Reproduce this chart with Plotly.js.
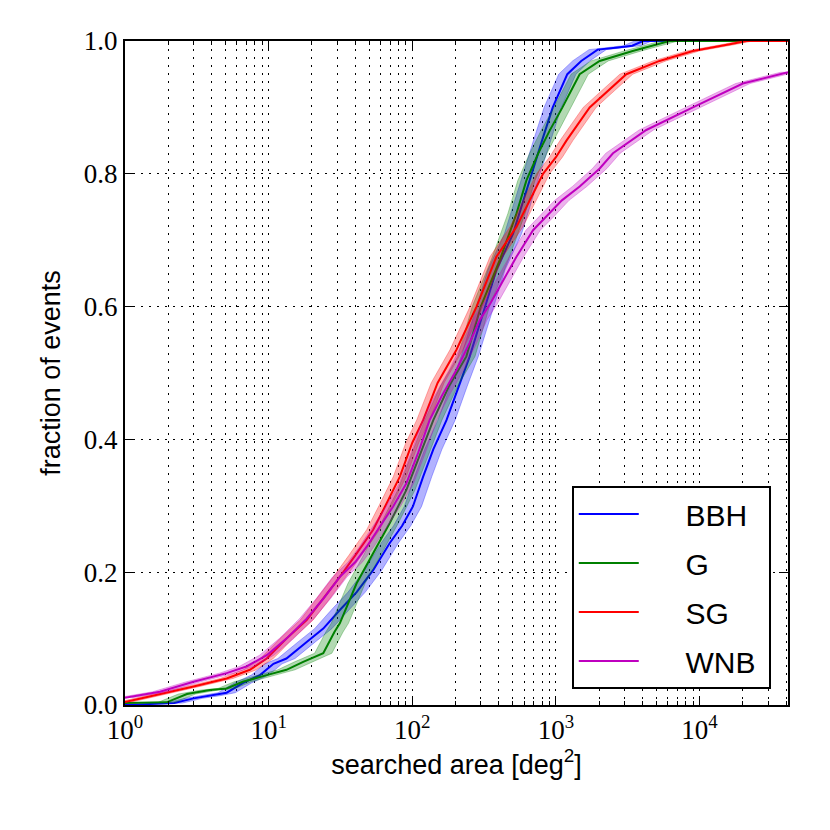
<!DOCTYPE html>
<html>
<head>
<meta charset="utf-8">
<script src="https://cdn.plot.ly/plotly-3.0.1.min.js"></script>
<style>html,body{margin:0;padding:0;background:#fff;}</style>
</head>
<body>
<div id="chart" style="width:830px;height:830px;"></div>
<script>
// ---- data ----
const seriesNames = ['BBH', 'G', 'SG', 'WNB'];

const bbhArea = [1, 2.2, 3, 4, 5.1, 6.6, 8.7, 10.8, 13.3, 18.4, 24, 31.3, 41, 53.4, 69.7, 85, 101, 119, 140, 173, 210, 251, 311, 385, 503, 675, 800, 950, 1200, 1500, 1950, 2600, 3400, 4040, 41253];
const bbhFrac = [0, 0.003, 0.01, 0.014, 0.0185, 0.033, 0.045, 0.062, 0.07, 0.095, 0.115, 0.143, 0.17, 0.203, 0.244, 0.27, 0.299, 0.344, 0.385, 0.429, 0.48, 0.525, 0.59, 0.655, 0.71, 0.8, 0.85, 0.9, 0.95, 0.97, 0.987, 0.99, 0.993, 1.0, 1.0];

const gArea = [1, 1.95, 2.7, 3.9, 5.1, 6.6, 9.7, 13.3, 17.4, 24, 28.7, 31.3, 40.9, 53.4, 69.7, 91, 110, 140, 180, 238, 300, 406, 531, 623, 750, 904, 1110, 1463, 2015, 3420, 6170, 41253];
const gFrac = [0.003, 0.004, 0.0165, 0.0226, 0.025, 0.035, 0.045, 0.053, 0.065, 0.078, 0.11, 0.123, 0.183, 0.228, 0.274, 0.324, 0.37, 0.429, 0.48, 0.525, 0.6, 0.67, 0.74, 0.79, 0.83, 0.865, 0.9, 0.95, 0.97, 0.985, 1.0, 1.0];

const sgArea = [1, 1.75, 3, 5.1, 7.4, 9.7, 10.8, 13.3, 18.4, 24, 31.3, 40, 53.4, 65, 81.9, 100, 119, 150, 203, 280, 385, 531, 731, 813, 1000, 1183, 1717, 2300, 3090, 5260, 8980, 16200, 21100, 41253];
const sgFrac = [0.0045, 0.016, 0.028, 0.04, 0.053, 0.07, 0.08, 0.1, 0.128, 0.16, 0.193, 0.225, 0.264, 0.3, 0.344, 0.395, 0.429, 0.485, 0.535, 0.6, 0.675, 0.72, 0.78, 0.8, 0.825, 0.85, 0.9, 0.925, 0.95, 0.97, 0.985, 0.995, 1.0, 1.0];

const wnbArea = [1, 1.75, 3, 5.1, 7, 9.7, 13.3, 18.4, 24, 31.3, 40, 48, 60, 73.6, 91, 110, 132, 160, 203, 250, 295, 350, 406, 531, 693, 857, 1100, 1463, 2016, 2495, 4256, 8980, 20000, 41253];
const wnbFrac = [0.011, 0.02, 0.035, 0.048, 0.058, 0.075, 0.1, 0.13, 0.16, 0.193, 0.215, 0.238, 0.27, 0.299, 0.334, 0.38, 0.429, 0.465, 0.505, 0.545, 0.58, 0.605, 0.63, 0.675, 0.715, 0.735, 0.76, 0.781, 0.808, 0.831, 0.866, 0.9, 0.936, 0.953];

// uncertainty band half-width in searched area (log10 units)
const bandDex = [0.06, 0.06, 0.045, 0.05];

// tick labels
const xMajorVals = [1, 10, 100, 1000, 10000];
const xMajorText = ['10<sup>0</sup>', '10<sup>1</sup>', '10<sup>2</sup>', '10<sup>3</sup>', '10<sup>4</sup>'];
const yTickVals = [0, 0.2, 0.4, 0.6, 0.8, 1.0];
const yTickText = ['0.0', '0.2', '0.4', '0.6', '0.8', '1.0'];
const fullSky = 41253;

// ---- styles ----
const colors = [[0, 0, 255], [0, 128, 0], [255, 0, 0], [191, 0, 191]];
const areas = [bbhArea, gArea, sgArea, wnbArea];
const fracs = [bbhFrac, gFrac, sgFrac, wnbFrac];

const xMinorVals = [];
for (let d = 1; d <= 10000; d *= 10) {
  for (let m = 2; m <= 9; m++) { if (m * d < fullSky) xMinorVals.push(m * d); }
}

const NB = '\u00a0';
const rgba = (c, a) => `rgba(${c[0]},${c[1]},${c[2]},${a})`;
const traces = [];
seriesNames.forEach((name, i) => {
  const A = areas[i], F = fracs[i], k = Math.pow(10, bandDex[i]);
  const bx = A.map(v => v / k).concat(A.slice().reverse().map(v => v * k));
  const by = F.concat(F.slice().reverse());
  traces.push({
    x: bx, y: by, type: 'scatter', mode: 'lines', fill: 'toself',
    fillcolor: rgba(colors[i], 0.3), line: {color: rgba(colors[i], 0.3), width: 1},
    showlegend: false, hoverinfo: 'skip', legendgroup: name
  });
  traces.push({
    x: A, y: F, type: 'scatter', mode: 'lines',
    name: NB.repeat(5) + name + NB, legendgroup: name,
    line: {color: rgba(colors[i], 1), width: 2}
  });
});

const gridDash = '2px,6px';
const layout = {
  width: 830, height: 830,
  margin: {l: 125, r: 42, t: 41, b: 125},
  paper_bgcolor: 'white', plot_bgcolor: 'white',
  font: {family: '"Liberation Sans", Arial, sans-serif', color: 'black'},
  showlegend: true,
  xaxis: {
    type: 'log', range: [0, Math.log10(fullSky)],
    tickmode: 'array', tickvals: xMajorVals, ticktext: xMajorText,
    ticks: 'inside', ticklen: 9, tickwidth: 1, tickcolor: 'black',
    showline: true, linecolor: 'black', linewidth: 2, mirror: 'ticks',
    showgrid: true, gridcolor: 'black', gridwidth: 1, griddash: gridDash,
    zeroline: false,
    tickfont: {family: '"Liberation Serif", "Times New Roman", serif', size: 27, color: 'black'},
    minor: {tickmode: 'array', tickvals: xMinorVals, ticks: 'inside', ticklen: 4, tickwidth: 1,
            tickcolor: 'black', showgrid: true, gridcolor: 'black', gridwidth: 1, griddash: gridDash},
    title: {text: 'searched area [deg<sup>2</sup>]', font: {size: 27, color: 'black'}, standoff: 6}
  },
  yaxis: {
    range: [0, 1], tickmode: 'array', tickvals: yTickVals, ticktext: yTickText,
    ticks: 'inside', ticklen: 9, tickwidth: 1, tickcolor: 'black',
    showline: true, linecolor: 'black', linewidth: 2, mirror: 'ticks',
    showgrid: true, gridcolor: 'black', gridwidth: 1, griddash: gridDash,
    zeroline: false,
    tickfont: {family: '"Liberation Serif", "Times New Roman", serif', size: 27, color: 'black'},
    title: {text: 'fraction of events', font: {size: 27, color: 'black'}}
  },
  legend: {
    x: 0.974, y: 0.024, xanchor: 'right', yanchor: 'bottom',
    bgcolor: 'white', bordercolor: 'black', borderwidth: 2,
    font: {size: 30, color: 'black'}, itemwidth: 60, tracegroupgap: 7
  }
};

Plotly.newPlot('chart', traces, layout, {displayModeBar: false, staticPlot: true});
</script>
</body>
</html>
